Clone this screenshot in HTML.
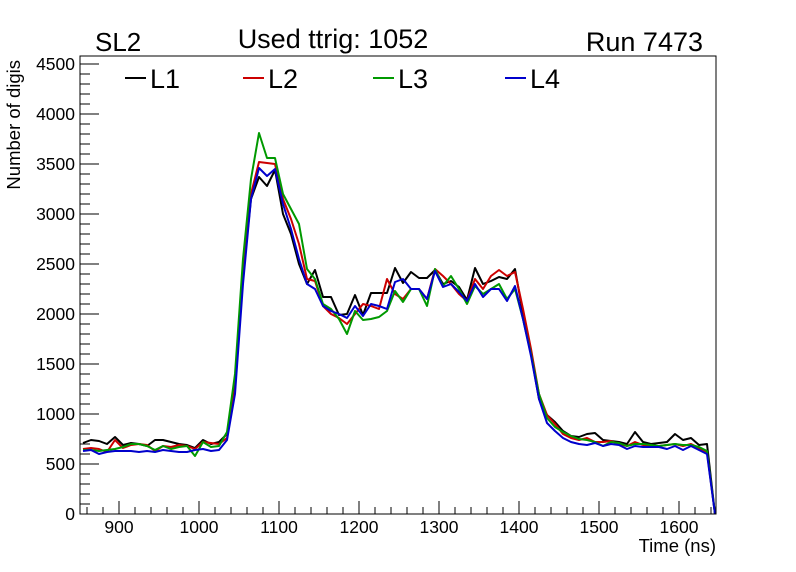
<!DOCTYPE html>
<html><head><meta charset="utf-8"><style>
body{margin:0;background:#fff;}
svg{display:block;font-family:"Liberation Sans",sans-serif;}
</style></head><body>
<svg id="chart" width="796" height="572" xmlns="http://www.w3.org/2000/svg">
<rect x="0" y="0" width="796" height="572" fill="#fff"/>
<g id="axes"></g>
<g id="series"></g>
<rect x="80" y="56" width="636" height="458" fill="none" stroke="#000" stroke-width="1"/>
<text x="95" y="51" font-size="26">SL2</text>
<text x="333" y="48" font-size="27" text-anchor="middle">Used ttrig: 1052</text>
<text x="703" y="51" font-size="27" text-anchor="end">Run 7473</text>
<text x="716" y="552" font-size="18.5" text-anchor="end">Time (ns)</text>
<text transform="translate(20,60) rotate(-90)" font-size="18.5" text-anchor="end">Number of digis</text>
<g id="legend"></g>
</svg>
<script>
const times = [];
for (let i = 0; i < 80; i++) times.push(855 + 10 * i);
const seriesNames = ["L1", "L2", "L3", "L4"];
const seriesColors = ["#000000", "#cc0000", "#009900", "#0000cc"];
const l1 = [710,740,730,700,770,690,710,700,680,740,740,720,700,690,660,740,700,720,
 800,1300,2400,3150,
 3370,3280,3440,3000,2800,2500,2300,2440,2170,2170,1990,2000,2190,1990,2210,2210,2210,2460,2310,2420,2360,2360,2440,2300,2330,2270,2140,2460,2300,2330,2370,2350,2450,
 2000,1600,1150,990,920,830,780,770,800,810,740,730,720,700,820,720,700,710,720,800,740,760,690,700,0];
const l2 = [650,660,650,620,740,660,690,700,690,630,680,670,690,680,650,720,710,700,
 760,1250,2400,3200,
 3520,3510,3500,3150,2950,2700,2350,2330,2080,2000,1960,1900,2000,2100,2080,2050,2350,2200,2150,2250,2250,2150,2450,2380,2300,2200,2130,2350,2250,2380,2440,2380,2420,
 2050,1650,1200,990,900,800,760,740,760,720,720,730,700,680,720,690,680,680,690,700,680,700,660,620,0];
const l3 = [640,640,630,640,650,670,700,700,680,640,680,650,670,680,580,720,670,680,
 820,1400,2550,3350,
 3810,3560,3560,3200,3050,2900,2450,2350,2100,2050,1950,1800,2030,1940,1950,1970,2030,2230,2120,2250,2250,2080,2450,2280,2380,2250,2100,2280,2200,2250,2300,2150,2250,
 1950,1600,1200,960,870,820,780,750,740,720,680,720,710,680,700,700,690,680,690,700,690,690,670,630,0];
const l4 = [630,640,600,620,630,630,630,620,630,620,640,630,620,620,640,650,630,640,
 740,1200,2300,3150,
 3460,3380,3450,3100,2850,2550,2300,2250,2080,2030,2000,1960,2080,1980,2100,2080,2050,2320,2350,2250,2250,2150,2430,2270,2300,2220,2130,2300,2170,2250,2250,2130,2280,
 1950,1580,1150,910,830,760,720,700,690,710,680,700,690,650,680,670,670,670,650,680,640,680,640,600,0];
const allSeries = [l1, l2, l3, l4];
const yTicks = [0,500,1000,1500,2000,2500,3000,3500,4000,4500];
const xTicks = [900,1000,1100,1200,1300,1400,1500,1600];

const X0 = 80, X1 = 716, Y0 = 514, Y1 = 56;
const xMin = 851.25, xMax = 1646.25, yMin = 0, yMax = 4580;
function xs(v){ return X0 + (v - xMin) / (xMax - xMin) * (X1 - X0); }
function ys(v){ return Y0 - (v - yMin) / (yMax - yMin) * (Y0 - Y1); }
const NS = "http://www.w3.org/2000/svg";
function mk(tag, attrs, parent){
  const e = document.createElementNS(NS, tag);
  for (const k in attrs) e.setAttribute(k, attrs[k]);
  parent.appendChild(e); return e;
}
const axes = document.getElementById('axes');
for (let v = 0; v <= 4500; v += 100) {
  const major = v % 500 === 0;
  const t = mk('line', {x1:X0, x2:X0 + (major ? 19 : 10), y1:ys(v), y2:ys(v), stroke:'#000', 'stroke-width':1}, axes);
  
  
}
yTicks.forEach(v => {
  const t = mk('text', {x:75, y:ys(v)+6, 'font-size':17.5, 'text-anchor':'end'}, axes);
  t.textContent = v;
  
  
});
for (let v = 860; v <= 1640; v += 20) {
  const major = v % 100 === 0;
  const t = mk('line', {x1:xs(v), x2:xs(v), y1:Y0, y2:Y0 - (major ? 13 : 7), stroke:'#000', 'stroke-width':1}, axes);
  
  
}
xTicks.forEach(v => {
  const t = mk('text', {x:xs(v), y:533, 'font-size':17.5, 'text-anchor':'middle'}, axes);
  t.textContent = v;
  
  
});
const sg = document.getElementById('series');
allSeries.forEach((arr, si) => {
  const pts = arr.map((v, i) => xs(times[i]).toFixed(1) + ',' + ys(v).toFixed(1)).join(' ');
  const p = mk('polyline', {points:pts, fill:'none', stroke:seriesColors[si], 'stroke-width':2, 'stroke-linejoin':'round'}, sg);
  
  
});
const lg = document.getElementById('legend');
const legX = [125, 243, 373, 505];
seriesNames.forEach((n, i) => {
  const g = mk('g', {}, lg);
  
  
  mk('line', {x1:legX[i], x2:legX[i]+21, y1:78, y2:78, stroke:seriesColors[i], 'stroke-width':2}, g);
  const t = mk('text', {x:legX[i]+25, y:88, 'font-size':27}, g);
  t.textContent = n;
});
</script>
</body></html>
